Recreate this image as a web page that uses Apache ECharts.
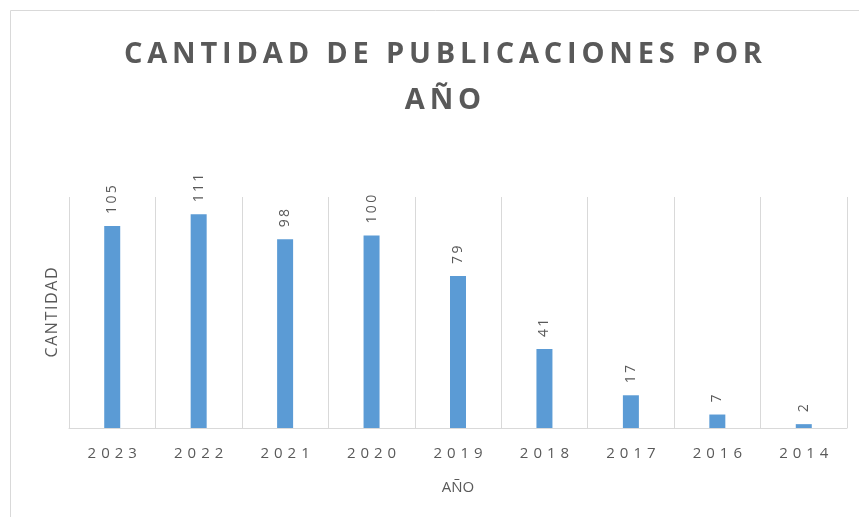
<!DOCTYPE html>
<html>
<head>
<meta charset="utf-8">
<script src="https://cdn.jsdelivr.net/npm/echarts@6/dist/echarts.min.js"></script>
<style>
  html, body { margin: 0; padding: 0; background: #fff; }
  #chart { width: 859px; height: 517px; }
</style>
</head>
<body>
<div id="chart"></div>
<script>
// datos
var years = ['2023', '2022', '2021', '2020', '2019', '2018', '2017', '2016', '2014'];
var cantidad = [105, 111, 98, 100, 79, 41, 17, 7, 2];
var titulo = 'CANTIDAD DE PUBLICACIONES POR\nAÑO';

var gris = '#595959';

// separa letras para imitar el espaciado
function espaciar(str, sep) {
  return str.split('\n').map(function (l) {
    return l.split('').join(sep);
  }).join('\n');
}

var chart = echarts.init(document.getElementById('chart'));

var option = {
  animation: false,
  graphic: [{
    type: 'rect',
    shape: { x: 10.5, y: 10.5, width: 870, height: 530 },
    style: { fill: 'none', stroke: '#d9d9d9', lineWidth: 1 },
    silent: true
  }],
  title: {
    text: espaciar(titulo, '\u2009'),
    left: 438,
    textAlign: 'center',
    top: 27,
    textStyle: {
      color: gris,
      fontFamily: 'Open Sans',
      fontWeight: 'bold',
      fontSize: 29,
      lineHeight: 46
    }
  },
  grid: {
    left: 69,
    right: 12,
    top: 197,
    bottom: 89
  },
  xAxis: {
    type: 'category',
    data: years,
    name: 'AÑO',
    nameLocation: 'middle',
    nameGap: 52,
    nameTextStyle: {
      color: gris,
      fontFamily: 'Open Sans',
      fontSize: 15
    },
    axisLine: { lineStyle: { color: '#d9d9d9' } },
    axisTick: { show: false },
    splitLine: { show: true, lineStyle: { color: '#d9d9d9' } },
    axisLabel: {
      color: gris,
      fontFamily: 'Open Sans',
      fontSize: 15,
      margin: 18,
      formatter: function (v) { return espaciar(v, '\u2009\u2009'); }
    }
  },
  yAxis: {
    type: 'value',
    min: 0,
    max: 120,
    name: espaciar('CANTIDAD', '\u200A'),
    nameLocation: 'middle',
    nameGap: 9,
    nameTextStyle: {
      color: gris,
      fontFamily: 'Open Sans',
      fontSize: 16
    },
    axisLine: { show: false },
    axisTick: { show: false },
    axisLabel: { show: false },
    splitLine: { show: false }
  },
  series: [{
    type: 'bar',
    data: cantidad,
    barWidth: 16,
    itemStyle: { color: '#5B9BD5' },
    label: {
      show: true,
      position: 'top',
      rotate: 90,
      align: 'left',
      verticalAlign: 'middle',
      distance: 12,
      color: gris,
      fontFamily: 'Open Sans',
      fontSize: 14,
      formatter: function (p) { return espaciar(String(p.value), '\u2009'); }
    }
  }]
};

chart.setOption(option);
</script>
</body>
</html>
